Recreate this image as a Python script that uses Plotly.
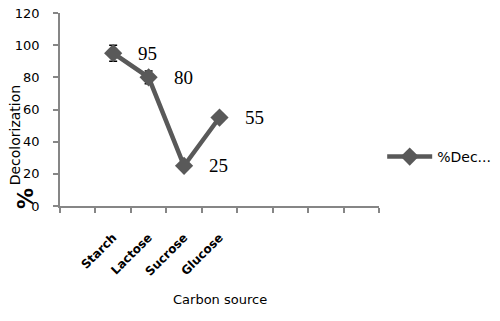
import plotly.graph_objects as go

# ---- data ----
slots = [" ", "Starch", "Lactose", "Sucrose", "Glucose", "  ", "   ", "    ", "     "]
carbon_sources = ["Starch", "Lactose", "Sucrose", "Glucose"]
decolorization = [95, 80, 25, 55]
error_vals = [5, 4, 0, 0]
series_name = "%Dec..."
y_ticks = [0, 20, 40, 60, 80, 100, 120]

axis_color = "#868686"
line_color = "#595959"

fig = go.Figure()
fig.add_trace(go.Scatter(
    x=carbon_sources, y=decolorization, name=series_name,
    mode="lines+markers",
    line=dict(color=line_color, width=4.5),
    marker=dict(symbol="diamond", size=14, color=line_color),
    error_y=dict(type="data", array=error_vals, visible=True,
                 color="black", thickness=1.5, width=4),
))

for xs, ys in zip(carbon_sources, decolorization):
    fig.add_annotation(x=xs, y=ys, text=str(ys), showarrow=False,
                       xanchor="left", yanchor="middle", xshift=23,
                       font=dict(family="Liberation Serif", size=19, color="black"))

fig.add_annotation(xref="paper", yref="paper", x=0.5, y=-0.487,
                   text="Carbon source", showarrow=False,
                   xanchor="center", yanchor="middle",
                   font=dict(family="DejaVu Sans", size=13, color="black"))
fig.add_annotation(xref="paper", yref="paper", x=-0.14, y=0.368,
                   xanchor="center", yanchor="middle", textangle=-90,
                   text="Decolorization", showarrow=False,
                   font=dict(family="DejaVu Sans", size=14, color="black"))
fig.add_annotation(xref="paper", yref="paper", x=-0.107, y=0.041,
                   xanchor="center", yanchor="middle", textangle=-90,
                   text="<b>%</b>", showarrow=False,
                   font=dict(family="DejaVu Sans", size=21, color="black"))

fig.update_layout(
    width=500, height=321,
    margin=dict(l=60, r=121, t=13, b=115, autoexpand=False),
    paper_bgcolor="white", plot_bgcolor="white",
    showlegend=True,
    legend=dict(x=1.01, xanchor="left", y=0.254, yanchor="middle",
                font=dict(family="DejaVu Sans", size=14, color="black"),
                itemwidth=45, bgcolor="rgba(0,0,0,0)"),
    xaxis=dict(type="category", categoryorder="array", categoryarray=slots,
               range=[-0.5, len(slots) - 0.5], automargin=False,
               showline=True, linecolor=axis_color, linewidth=1.5,
               ticks="outside", tickson="boundaries", ticklen=5, tickcolor=axis_color,
               tickwidth=1.5, showgrid=False, zeroline=False,
               tickangle=-45, ticklabelstandoff=18, ticklabeloverflow="allow",
               tickfont=dict(family="DejaVu Sans", size=12, color="black", weight="bold")),
    yaxis=dict(range=[0, 120], tickvals=y_ticks, automargin=False,
               showline=True, linecolor=axis_color, linewidth=1.5,
               ticks="outside", ticklen=5, tickcolor=axis_color, tickwidth=1.5,
               ticklabelstandoff=11, ticklabeloverflow="allow",
               showgrid=False, zeroline=False,
               tickfont=dict(family="DejaVu Sans", size=13, color="black")),
)

# remove the browser's default 8px page margin so the figure sits at the page origin
fig.write_html("out.html", config={"displayModeBar": False},
               post_script="document.body.style.margin='0';")
